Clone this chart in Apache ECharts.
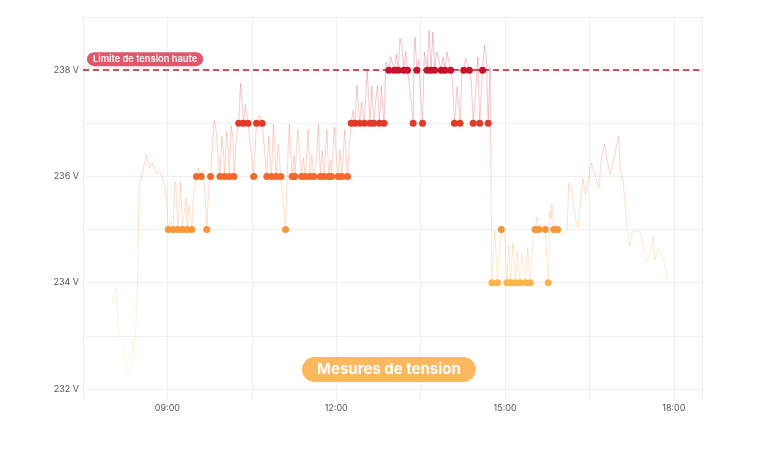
<!DOCTYPE html>
<html lang="fr">
<head>
<meta charset="UTF-8">
<title>Mesures de tension</title>
<script src="https://cdn.jsdelivr.net/npm/echarts@6/dist/echarts.min.js"></script>
<style>
  html, body { margin: 0; padding: 0; background: #fff; }
  #chart { width: 768px; height: 462px; }
</style>
</head>
<body>
<div id="chart"></div>
<script>
// relevés de tension [heure, volts] ; les valeurs entières sont marquées d'un point
var readings = [
  ['08:01', 233.6], ['08:05', 233.9], ['08:07', 233.3], ['08:09', 232.95], ['08:12', 232.9],
  ['08:15', 232.6], ['08:18', 232.2], ['08:21', 232.5], ['08:23', 232.95], ['08:25', 232.6],
  ['08:28', 233.95], ['08:30', 235.85], ['08:32', 235.95], ['08:35', 236.2], ['08:38', 236.4],
  ['08:41', 236.15], ['08:44', 236.25], ['08:48', 236.05], ['08:52', 236.1], ['08:55', 235.95],
  ['08:57', 235.85], ['08:59', 235.6], ['09:01', 235], ['09:04', 235.15], ['09:06', 235],
  ['09:08', 235.9], ['09:09', 235.85], ['09:11', 235], ['09:13', 235.5], ['09:14', 235.9],
  ['09:16', 235], ['09:18', 235.35], ['09:20', 235.6], ['09:21', 235], ['09:23', 235.45],
  ['09:26', 235], ['09:28', 235.7], ['09:30', 235.9], ['09:31', 236], ['09:33', 236.15],
  ['09:36', 236], ['09:38', 236.1], ['09:40', 235.7], ['09:42', 235], ['09:44', 235.8],
  ['09:46', 236], ['09:48', 236.6], ['09:50', 237.05], ['09:52', 236.85], ['09:54', 236.4],
  ['09:56', 236], ['09:58', 236.75], ['10:00', 236.4], ['10:01', 236], ['10:03', 236.85],
  ['10:05', 236.5], ['10:06', 236], ['10:08', 236.95], ['10:10', 236.7], ['10:11', 236],
  ['10:13', 236.6], ['10:15', 236.95], ['10:16', 237], ['10:18', 237.75], ['10:20', 237.3],
  ['10:21', 237], ['10:23', 237.35], ['10:26', 237], ['10:29', 236.5], ['10:32', 236],
  ['10:35', 237], ['10:38', 237.15], ['10:41', 237], ['10:43', 236.6], ['10:46', 236],
  ['10:48', 236.75], ['10:51', 236], ['10:53', 236.98], ['10:56', 236], ['10:58', 236.6],
  ['11:01', 236], ['11:03', 235.6], ['11:06', 235], ['11:08', 236.2], ['11:10', 236.98],
  ['11:13', 236], ['11:15', 236.4], ['11:16', 236], ['11:19', 236.87], ['11:23', 236],
  ['11:25', 236.35], ['11:27', 236], ['11:30', 236.87], ['11:32', 236], ['11:34', 236.4],
  ['11:36', 236], ['11:39', 236.3], ['11:41', 236.98], ['11:43', 236], ['11:45', 236.5],
  ['11:47', 236], ['11:50', 236.87], ['11:52', 236], ['11:54', 236.3], ['11:55', 236],
  ['11:58', 236.93], ['12:00', 236.4], ['12:02', 236], ['12:04', 236.5], ['12:06', 236],
  ['12:09', 236.87], ['12:12', 236], ['12:14', 236.6], ['12:16', 237], ['12:18', 237.25],
  ['12:20', 237], ['12:22', 237.72], ['12:23', 237.7], ['12:25', 237], ['12:27', 237.4],
  ['12:30', 237], ['12:33', 238.02], ['12:36', 237], ['12:38', 237.7], ['12:40', 237],
  ['12:42', 237.4], ['12:44', 237.7], ['12:46', 237], ['12:48', 237.7], ['12:51', 237],
  ['12:53', 238.15], ['12:56', 238], ['12:58', 238.25], ['13:02', 238], ['13:04', 238.3],
  ['13:06', 238], ['13:08', 238.6], ['13:10', 238.45], ['13:12', 238], ['13:14', 238.35],
  ['13:16', 238], ['13:18', 237.7], ['13:20', 237.4], ['13:22', 237], ['13:23', 238.3],
  ['13:24', 238.62], ['13:26', 238], ['13:28', 238.19], ['13:30', 237.5], ['13:32', 237],
  ['13:34', 238.34], ['13:36', 238.2], ['13:37', 238], ['13:39', 238.75], ['13:41', 238],
  ['13:43', 238.72], ['13:45', 238], ['13:47', 238.34], ['13:50', 238.15], ['13:52', 238],
  ['13:54', 238.25], ['13:56', 238], ['13:58', 238.34], ['14:02', 238], ['14:04', 237.81],
  ['14:06', 237], ['14:09', 237.69], ['14:12', 237], ['14:14', 237.95], ['14:16', 238],
  ['14:18', 238.22], ['14:22', 238], ['14:24', 237.78], ['14:26', 237], ['14:29', 237.69],
  ['14:31', 238.25], ['14:33', 237], ['14:36', 238], ['14:38', 238.47], ['14:40', 238.25],
  ['14:42', 237], ['14:44', 238.05], ['14:46', 234], ['14:49', 234.98], ['14:52', 234],
  ['14:56', 235], ['14:58', 235.05], ['15:00', 234.9], ['15:02', 234], ['15:04', 234.7],
  ['15:06', 234], ['15:08', 234.74], ['15:11', 234], ['15:13', 234.6], ['15:16', 234],
  ['15:18', 234.55], ['15:20', 234.3], ['15:22', 234], ['15:24', 234.65], ['15:27', 234],
  ['15:29', 234.7], ['15:32', 235], ['15:34', 235.24], ['15:36', 235], ['15:39', 235.1],
  ['15:43', 235], ['15:46', 234], ['15:48', 235.37], ['15:49', 235.2], ['15:50', 235.49],
  ['15:52', 235], ['15:54', 235.1], ['15:56', 235], ['15:58', 234.93], ['16:02', 234.9],
  ['16:06', 234.97], ['16:08', 235.87], ['16:11', 235.74], ['16:16', 235.12], ['16:18', 235.03],
  ['16:23', 235.96], ['16:26', 235.65], ['16:30', 236.06], ['16:32', 236.25], ['16:36', 236.03],
  ['16:40', 235.78], ['16:43', 236.37], ['16:46', 236.61], ['16:49', 236.3], ['16:52', 236.03],
  ['16:55', 236.25], ['17:01', 236.75], ['17:03', 236.12], ['17:06', 235.9], ['17:10', 235.03],
  ['17:13', 234.68], ['17:16', 234.97], ['17:20', 234.98], ['17:24', 234.97], ['17:31', 234.4],
  ['17:34', 234.5], ['17:38', 234.87], ['17:40', 234.43], ['17:43', 234.65], ['17:46', 234.55],
  ['17:49', 234.43], ['17:54', 234.02]
];

var limit = 238;                 // limite de tension haute
var voltRange = [232, 239];
var timeRange = ['07:30', '18:30'];
var levelColors = ['#fff0a8', '#fed77a', '#fdb44e', '#f89638', '#f2692c', '#e03a28', '#c8102e']; // 232 -> 238

function toMin(s) {
  var p = s.split(':');
  return (+p[0]) * 60 + (+p[1]);
}
function fmtMin(m) {
  var h = Math.floor(m / 60), mm = m % 60;
  return (h < 10 ? '0' : '') + h + ':' + (mm < 10 ? '0' : '') + mm;
}

var lineData = readings.map(function (r) { return [toMin(r[0]), r[1]]; });
var dotData = lineData.filter(function (d) { return Number.isInteger(d[1]); });

var chart = echarts.init(document.getElementById('chart'));
chart.setOption({
  animation: false,
  textStyle: { fontFamily: 'Inter' },
  title: {
    text: 'Mesures de tension',
    left: 302,
    top: 357,
    backgroundColor: '#fcb85e',
    borderRadius: 13,
    padding: [4, 15],
    textStyle: { color: '#fff', fontSize: 15, fontWeight: 'bold', fontFamily: 'Inter', lineHeight: 17 }
  },
  grid: { left: 83, right: 66, top: 17, bottom: 73 },
  xAxis: {
    type: 'value',
    min: toMin(timeRange[0]),
    max: toMin(timeRange[1]),
    interval: 90,
    axisLine: { show: false },
    axisTick: { show: true, length: 11, lineStyle: { color: '#efefef' } },
    splitLine: { show: true, lineStyle: { color: '#efefef' } },
    axisLabel: {
      margin: 15,
      color: '#555',
      fontSize: 9,
      formatter: function (v) { return v % 180 === 0 ? fmtMin(v) : ''; }
    }
  },
  yAxis: {
    type: 'value',
    min: voltRange[0],
    max: voltRange[1],
    interval: 1,
    axisLine: { show: false },
    axisTick: { show: false },
    splitLine: { lineStyle: { color: '#efefef' } },
    axisLabel: {
      margin: 4,
      color: '#555',
      fontSize: 9,
      formatter: function (v) { return v % 2 === 0 ? v + ' V' : ''; }
    }
  },
  visualMap: {
    show: false,
    type: 'continuous',
    min: 232,
    max: 238,
    dimension: 1,
    seriesIndex: [0, 1],
    inRange: { color: levelColors }
  },
  series: [
    {
      type: 'line',
      data: lineData,
      showSymbol: false,
      lineStyle: { width: 1, opacity: 0.25 },
      z: 2,
      markLine: {
        silent: true,
        symbol: 'none',
        lineStyle: { color: '#c0182a', type: [6, 4], width: 1.5, opacity: 1 },
        label: {
          show: true,
          position: 'insideStartTop',
          distance: [4, 4],
          formatter: 'Limite de tension haute',
          color: '#fff',
          backgroundColor: '#e0566c',
          borderRadius: 7,
          padding: [2, 6, 2, 6],
          lineHeight: 10,
          fontSize: 9.3,
          fontWeight: 600,
          fontFamily: 'Inter'
        },
        data: [{ yAxis: limit }]
      }
    },
    {
      type: 'scatter',
      data: dotData,
      symbolSize: 7,
      z: 3,
      itemStyle: { opacity: 1 }
    }
  ]
});
</script>
</body>
</html>
